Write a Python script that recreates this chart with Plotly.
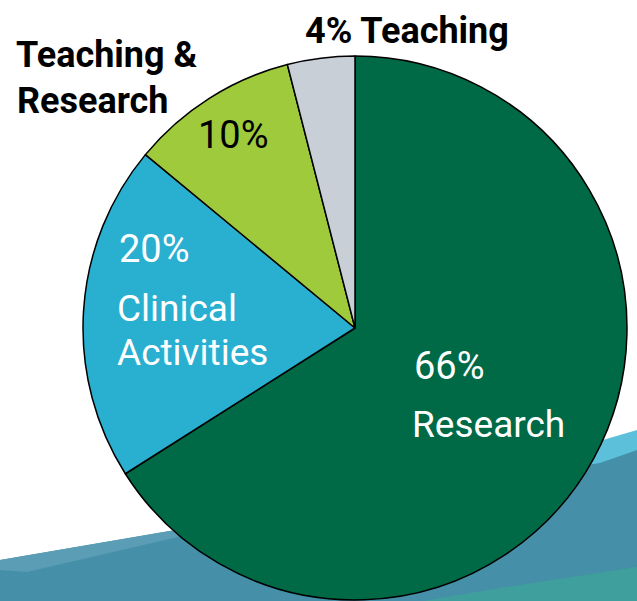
import plotly.graph_objects as go

W, H = 637, 601

categories = ["Research", "Clinical Activities", "Teaching & Research", "Teaching"]
values = [66, 20, 10, 4]
colors = ["#006A47", "#29AFCF", "#9ECA3C", "#C9CFD6"]

# label texts
label_lines = [
    # text, x_left_px, cap_center_px, color, weight, size
    ("4% Teaching", 303, 31, "black", 700, 36),
    ("Teaching &", 14, 54.5, "black", 700, 36),
    ("Research", 15, 101, "black", 700, 36),
    ("10%", 196, 135, "black", 400, 38),
    ("20%", 117, 249, "white", 400, 38),
    ("Clinical", 115, 308.5, "white", 400, 37),
    ("Activities", 115, 352, "white", 400, 37),
    ("66%", 412, 366, "white", 400, 38),
    ("Research", 410, 424.5, "white", 400, 37),
]

FONT = "Roboto, Liberation Sans, sans-serif"

def px(x):
    return x / W

def py(y):
    return 1 - y / H

# pie placement: center (355, 328), radius 272
cx, cy, r = 355, 328, 272

fig = go.Figure(go.Pie(
    labels=categories,
    values=values,
    sort=False,
    direction="clockwise",
    rotation=0,
    marker=dict(colors=colors, line=dict(color="black", width=1.5)),
    textinfo="none",
    hoverinfo="label+percent",
    showlegend=False,
    domain=dict(x=[px(cx - r), px(cx + r)], y=[py(cy + r), py(cy - r)]),
))

def poly(points, color):
    d = "M " + " L ".join(f"{px(x):.5f},{py(y):.5f}" for x, y in points) + " Z"
    return dict(type="path", path=d, xref="paper", yref="paper",
                fillcolor=color, line=dict(width=0), layer="below")

shapes = [
    poly([(330, 520), (637, 430), (637, 620), (330, 620)], "#5DC0DB"),
    poly([(0, 560), (170, 531), (600, 463), (637, 450), (637, 620), (0, 620)], "#468FA8"),
    poly([(0, 560), (175, 530), (178, 537), (27, 572), (0, 570)], "#5A9DB4"),
    poly([(637, 567), (500, 588), (340, 615), (637, 615)], "#3E9F9D"),
]

annotations = []
for text, x, yc, color, weight, size in label_lines:
    annotations.append(dict(
        text=text,
        x=px(x), y=py(yc), xref="paper", yref="paper",
        xanchor="left", yanchor="middle", showarrow=False,
        font=dict(family=FONT, size=size, color=color, weight=weight),
    ))

fig.update_layout(
    width=W, height=H,
    margin=dict(l=0, r=0, t=0, b=0),
    paper_bgcolor="white", plot_bgcolor="white",
    shapes=shapes, annotations=annotations,
)

fig.write_html("out.html", config={"displayModeBar": False},
               post_script="document.body.style.margin='0';")
